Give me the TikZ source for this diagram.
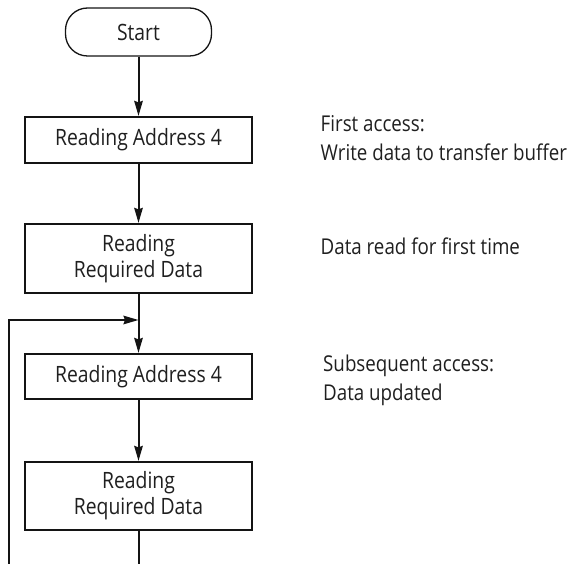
\documentclass[tikz,border=0pt]{standalone}
\usepackage{fontspec}
\setmainfont{Open Sans}[FakeStretch=0.86]
\usetikzlibrary{arrows.meta}
\begin{document}
\begin{tikzpicture}[x=1pt,y=-1pt,
  every node/.style={font=\fontsize{22.5}{26}\selectfont, text=black!88, inner sep=0pt},
  box/.style={draw=black!92, line width=2.2pt, minimum width=227pt, align=center},
  term/.style={draw=black!92, line width=1.3pt, minimum width=146pt, minimum height=48pt, rounded corners=22pt},
  conn/.style={line width=2pt, draw=black!92},
  arr/.style={conn, -{Stealth[length=15pt,width=8.5pt,inset=1.5pt]}},
  note/.style={anchor=base west, font=\fontsize{21.8}{26}\selectfont}
]
\useasboundingbox (0,0) rectangle (576,564);
\node[term] (start) at (138.5,32) {Start};
\node[box, minimum height=46pt] (b1) at (138.5,140) {Reading Address 4};
\node[box, minimum height=69pt] (b2) at (138.5,258.5) {Reading\\Required Data};
\node[box, minimum height=45pt] (b3) at (138.5,376.5) {Reading Address 4};
\node[box, minimum height=68pt] (b4) at (138.5,496) {Reading\\Required Data};
\coordinate (lp) at (138.5,320);
\coordinate (bl) at (8.5,564);
\coordinate (bb) at (138.5,564);
\draw[arr] (start) -- (b1);
\draw[arr] (b1) -- (b2);
\draw[arr] (b2) -- (b3);
\draw[arr] (b3) -- (b4);
\draw[conn] (b4) -- (bb);
\draw[arr] (bl) |- (lp);
\node[note] (n1) at (320.5,132) {First access:};
\node[note] (n2) at (320.5,161) {Write data to transfer buffer};
\node[note] (n3) at (320.5,255) {Data read for first time};
\node[note] (n4) at (323,371.7) {Subsequent access:};
\node[note] (n5) at (323,400) {Data updated};
\end{tikzpicture}
\end{document}
